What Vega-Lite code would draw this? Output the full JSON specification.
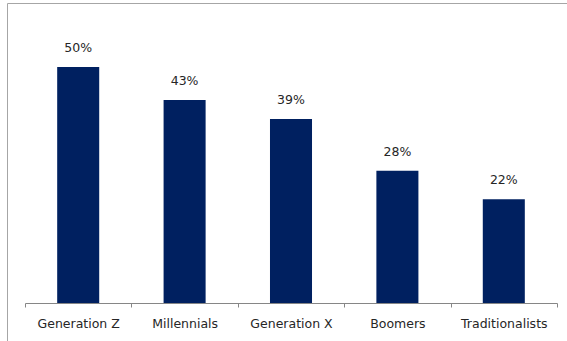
{
  "$schema": "https://vega.github.io/schema/vega-lite/v6.json",
  "autosize": {"type": "none"},
  "padding": {"left": 7, "top": 3, "right": 0, "bottom": 0},
  "width": 561,
  "height": 339,
  "background": "white",
  "config": {
    "view": {"stroke": "#a6a6a6", "strokeWidth": 1},
    "font": "DejaVu Sans"
  },
  "data": {
    "values": [
      {"generation": "Generation Z", "share": 0.50},
      {"generation": "Millennials", "share": 0.43},
      {"generation": "Generation X", "share": 0.39},
      {"generation": "Boomers", "share": 0.28},
      {"generation": "Traditionalists", "share": 0.22}
    ]
  },
  "encoding": {
    "x": {
      "field": "generation",
      "type": "nominal",
      "sort": null,
      "scale": {"range": [18, 550], "paddingInner": 0, "paddingOuter": 0},
      "axis": {
        "title": null,
        "labelAngle": 0,
        "labelFont": "DejaVu Sans",
        "labelFontSize": 12.5,
        "labelColor": "#262626",
        "labelPadding": 10,
        "domainColor": "#868686",
        "tickColor": "#868686",
        "tickSize": 4,
        "tickBand": "extent",
        "offset": -39
      }
    },
    "y": {
      "field": "share",
      "type": "quantitative",
      "scale": {"domain": [0, 0.6], "range": [300, 16.8], "nice": false, "zero": true},
      "axis": null
    }
  },
  "layer": [
    {
      "mark": {"type": "bar", "color": "#002060", "width": {"band": 0.395}}
    },
    {
      "mark": {"type": "text", "baseline": "bottom", "dy": -12, "fontSize": 12.5, "color": "#262626", "font": "DejaVu Sans"},
      "encoding": {
        "text": {"field": "share", "type": "quantitative", "format": ".0%"}
      }
    }
  ]
}
